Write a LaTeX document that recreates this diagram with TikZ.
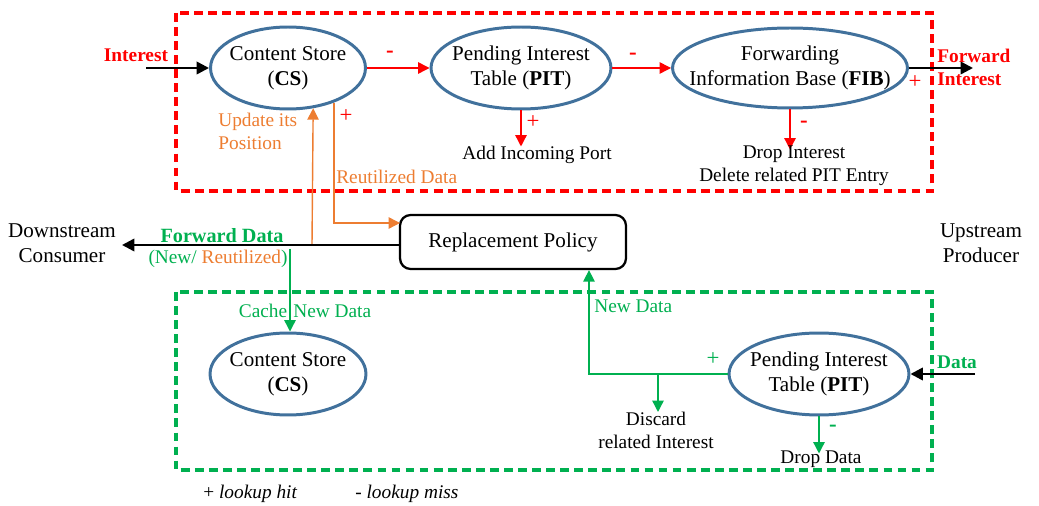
\documentclass[tikz,border=0pt]{standalone}
\usepackage{fontspec}
\setmainfont{Liberation Serif}
\usetikzlibrary{shapes.geometric,arrows.meta,calc}
\definecolor{ellblue}{HTML}{41719C}
\definecolor{ndnred}{HTML}{FF0000}
\definecolor{ndngreen}{HTML}{00B050}
\definecolor{ndnorange}{HTML}{ED7D31}
\tikzset{
  table/.style={ellipse, draw=ellblue, line width=1.7pt, inner xsep=-30pt, inner ysep=-10pt,
    align=center, font=\fontsize{12}{14}\selectfont},
  redbox/.style={draw=ndnred, line width=2.2pt, dash pattern=on 5pt off 3pt},
  greenbox/.style={draw=ndngreen, line width=2.2pt, dash pattern=on 5pt off 3pt},
  flowred/.style={draw=ndnred, line width=0.8pt, -{Triangle[length=6.5pt,width=6.5pt]}},
  floworange/.style={draw=ndnorange, line width=0.8pt},
  flowgreen/.style={draw=ndngreen, line width=0.8pt},
  tipgreen/.style={-{Triangle[length=6.5pt,width=6.5pt]}},
  tiporange/.style={-{Triangle[length=6.5pt,width=6.5pt]}},
  flowblack/.style={draw=black, line width=1.4pt, -{Triangle[length=7pt,width=7pt]}},
  lbl/.style={inner sep=0pt, font=\fontsize{11}{13}\selectfont},
  big/.style={inner sep=0pt, align=center, font=\fontsize{12}{14}\selectfont},
  sign/.style={inner sep=0pt, font=\fontsize{13}{13}\selectfont},
}
\begin{document}
\begin{tikzpicture}[x=0.02cm, y=-0.02cm]
\useasboundingbox (0,0) rectangle (1039,506);

% dashed frames: interest path (top) and data path (bottom)
\draw[redbox] (176,13) rectangle (932,191);
\draw[greenbox] (176,292) rectangle (932,470);

% interest processing tables
\node[table, minimum width=3.1cm, minimum height=1.64cm] (cs) at (288,68) {Content Store\\(\textbf{CS})};
\node[table, minimum width=3.6cm, minimum height=1.64cm] (pit) at (521,68) {Pending Interest\\Table (\textbf{PIT})};
\node[table, minimum width=4.7cm, minimum height=1.6cm] (fib) at (790,68) {Forwarding\\Information Base (\textbf{FIB})};

% data processing tables
\node[table, minimum width=3.12cm, minimum height=1.64cm] (bcs) at (288,374) {Content Store\\(\textbf{CS})};
\node[table, minimum width=3.6cm, minimum height=1.64cm] (bpit) at (819,374) {Pending Interest\\Table (\textbf{PIT})};

% replacement policy
\node[draw, rounded corners=6pt, line width=1.3pt, minimum width=4.52cm, minimum height=1.08cm,
  font=\fontsize{12}{14}\selectfont] (rp) at (513,242) {Replacement Policy};

% end points
\node[big] (ds) at (62,243) {Downstream\\Consumer};
\node[big] (us) at (981,243) {Upstream\\Producer};
\coordinate (inI) at (146,68);
\coordinate (outI) at (973,68);
\coordinate (fwdend) at (122,245);
\coordinate (inD) at (975,374);
\coordinate (upd) at (312,245);
\coordinate (rpin) at (400,223);
\coordinate (cache) at (290,249);
\coordinate (nd) at (589,374);
\coordinate (disc) at (658,374);

% interest path
\draw[flowblack] (inI) -- (cs.west);
\node[lbl, text=ndnred, font=\fontsize{11}{13}\selectfont\bfseries] (lint) at (136,55) {Interest};
\draw[flowred] (cs.east) -- (pit.west);
\node[sign, text=ndnred] (m1) at (390,54) {\textbf{-}};
\draw[flowred] (pit.east) -- (fib.west);
\node[sign, text=ndnred] (m2) at (633,56) {\textbf{-}};
\draw[flowblack] (fib.east) -- (outI);
\node[lbl, text=ndnred, align=left, anchor=west, font=\fontsize{11}{13}\selectfont\bfseries] (lfwd) at (937,67) {Forward\\Interest};
\node[sign, text=ndnred] (p3) at (915,82) {+};

\draw[flowred] (pit.south) -- ++(0,36) coordinate (pitdn);
\node[sign, text=ndnred] (p1) at (533,122) {+};
\node[lbl] (aip) at (537,155) {Add Incoming Port};
\draw[flowred] (fib.south) -- ++(0,40) coordinate (fibdn);
\node[sign, text=ndnred] (m3) at (804,124) {\textbf{-}};
\node[lbl, align=center] (drop) at (794,166) {Drop Interest\\Delete related PIT Entry};

% content store hit
\draw[floworange, tiporange] (upd) -- (cs.-58);
\node[lbl, text=ndnorange, align=left, anchor=west] (lupd) at (218,131) {Update its\\Position};
\node[sign, text=ndnred] (p2) at (346,116) {+};
\draw[floworange, tiporange] (cs.-37) |- (rpin);
\node[lbl, text=ndnorange, anchor=west] (lreu) at (336,177) {Reutilized Data};

% forward data to consumer
\draw[flowblack] (rp.west |- fwdend) -- (fwdend);
\node[lbl, text=ndngreen, font=\fontsize{11.5}{13}\selectfont\bfseries] (lfd) at (222,236) {Forward Data};
\node[lbl] (lnr) at (218,259) {\textcolor{ndngreen}{(New/ }\textcolor{ndnorange}{Reutilized}\textcolor{ndngreen}{)}};

% data path
\draw[flowgreen, tipgreen] (cache) -- (cache |- bcs.north);
\node[lbl, text=ndngreen, fill=white, inner xsep=0pt] (lcnd) at (305,311) {Cache\hspace{3.5pt}New Data};
\draw[flowgreen] (cache |- lcnd.north) -- (cache |- lcnd.south);

\draw[flowblack] (inD) -- (bpit.east);
\node[lbl, text=ndngreen, font=\fontsize{11}{13}\selectfont\bfseries] (ldata) at (957,362) {Data};
\draw[flowgreen, tipgreen] (bpit.west) -- (nd) -- (nd |- rp.south);
\node[lbl, text=ndngreen, anchor=west] (lnd) at (594,306) {New Data};
\node[sign, text=ndngreen] (p4) at (713,359) {+};
\draw[flowgreen, tipgreen] (disc) -- ++(0,38);
\node[lbl, align=center] (ldisc) at (656,430) {Discard\\related Interest};
\draw[flowgreen, tipgreen] (bpit.south) -- ++(0,37);
\node[sign, text=ndngreen] (m4) at (833,428) {\textbf{-}};
\node[lbl] (ldd) at (821,459) {Drop Data};

% legend
\node[lbl, anchor=west] (hit) at (203,494) {+ \textit{lookup hit}};
\node[lbl, anchor=west] (miss) at (355,494) {- \textit{lookup miss}};
\end{tikzpicture}
\end{document}
